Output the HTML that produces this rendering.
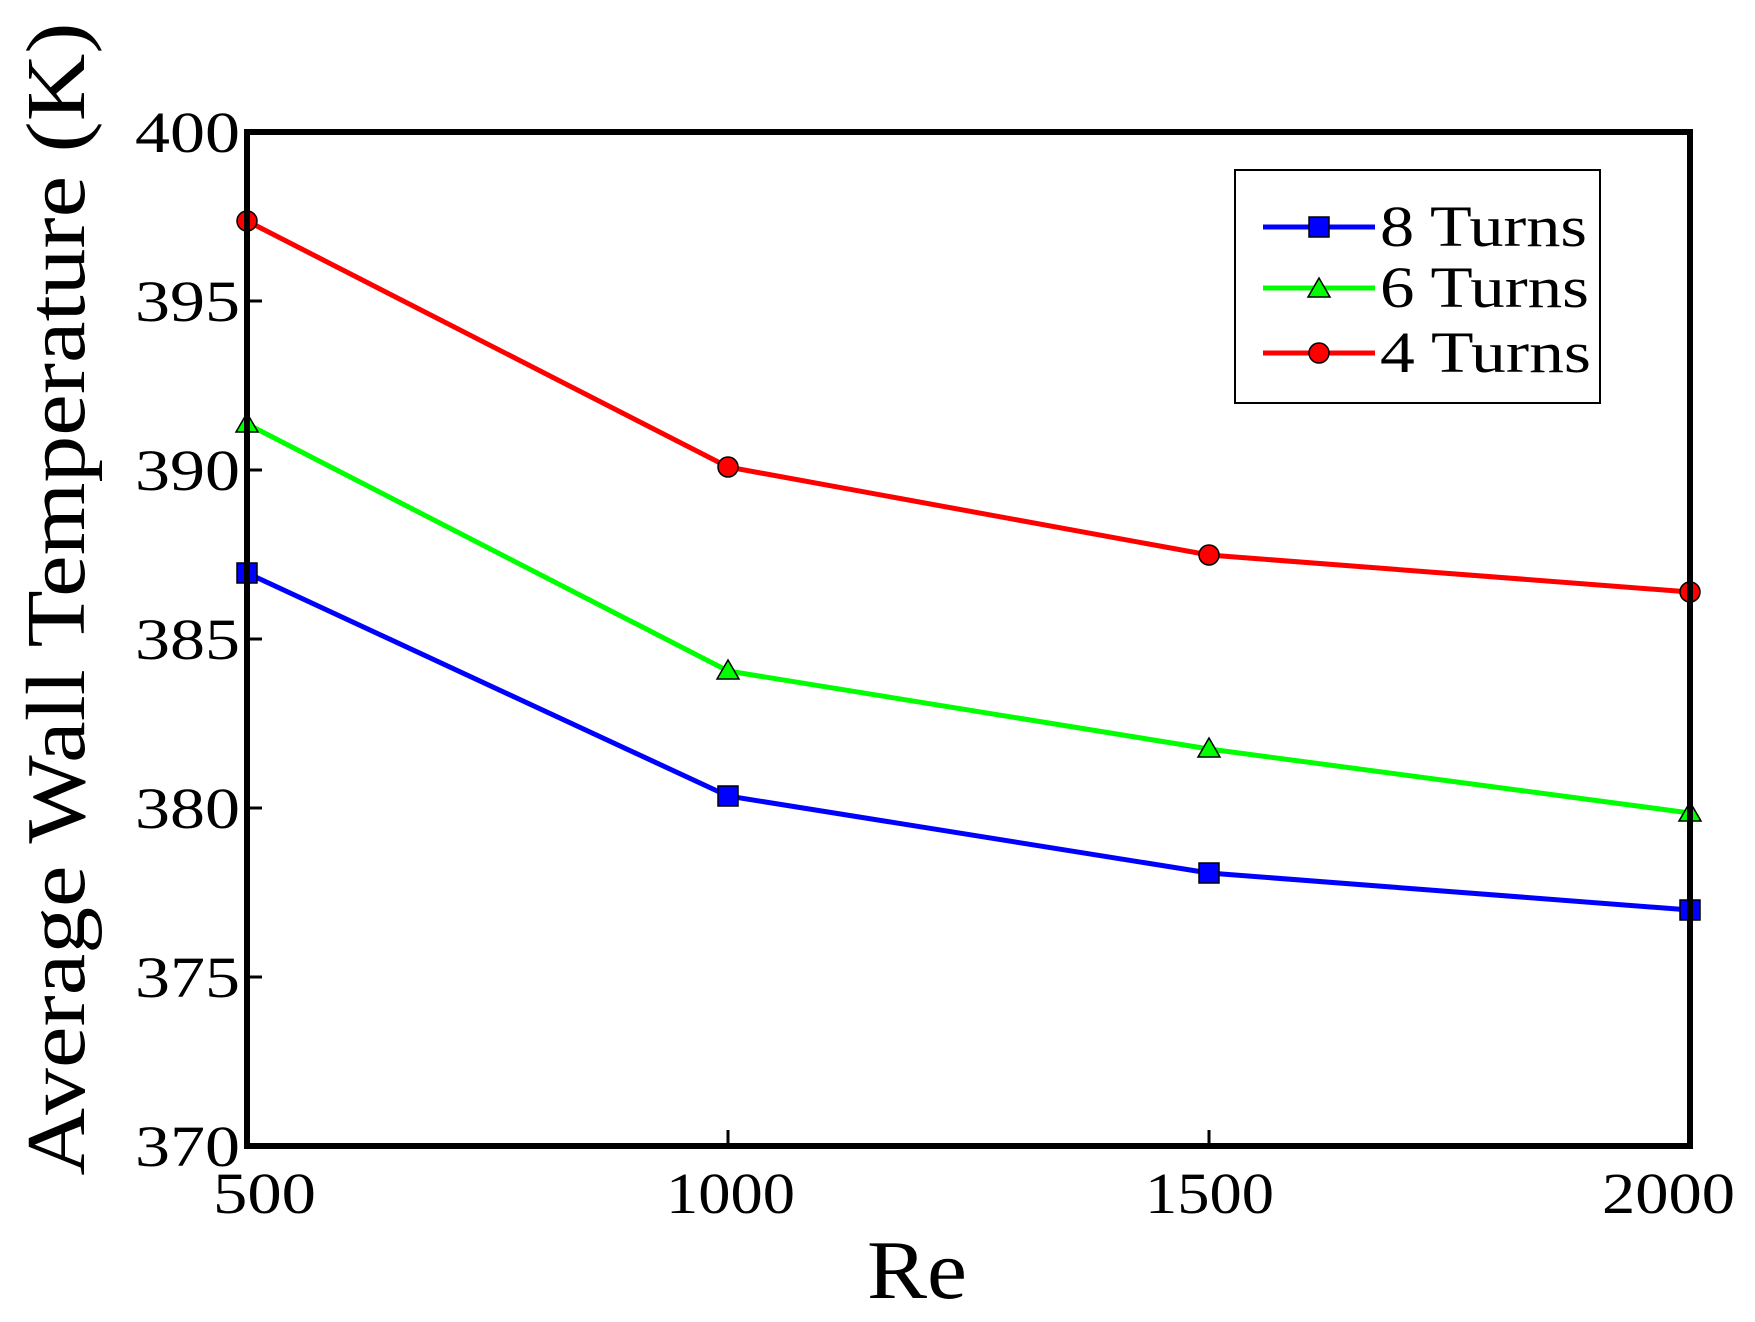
<!DOCTYPE html>
<html><head><style>html,body{margin:0;padding:0;background:#fff}</style></head>
<body>
<svg width="1755" height="1317" xmlns="http://www.w3.org/2000/svg" font-family="Liberation Serif, serif">
<rect width="1755" height="1317" fill="#fff"/>
<g stroke="#000" stroke-width="3">
<line x1="728" y1="1146" x2="728" y2="1130"/><line x1="1209" y1="1146" x2="1209" y2="1130"/>
<line x1="247" y1="301" x2="262" y2="301"/><line x1="247" y1="470" x2="262" y2="470"/><line x1="247" y1="639" x2="262" y2="639"/><line x1="247" y1="808" x2="262" y2="808"/><line x1="247" y1="977" x2="262" y2="977"/>
</g>
<g font-size="58" text-anchor="end" fill="#000">
<text x="240" y="152" textLength="105" lengthAdjust="spacingAndGlyphs">400</text><text x="240" y="321" textLength="105" lengthAdjust="spacingAndGlyphs">395</text><text x="240" y="490" textLength="105" lengthAdjust="spacingAndGlyphs">390</text><text x="240" y="659" textLength="105" lengthAdjust="spacingAndGlyphs">385</text><text x="240" y="828" textLength="105" lengthAdjust="spacingAndGlyphs">380</text><text x="240" y="997" textLength="105" lengthAdjust="spacingAndGlyphs">375</text><text x="240" y="1166" textLength="105" lengthAdjust="spacingAndGlyphs">370</text>
</g>
<g font-size="58">
<text x="213" y="1213" textLength="103" lengthAdjust="spacingAndGlyphs">500</text><text x="666" y="1213" textLength="129" lengthAdjust="spacingAndGlyphs">1000</text><text x="1145" y="1213" textLength="129" lengthAdjust="spacingAndGlyphs">1500</text><text x="1602" y="1213" textLength="133" lengthAdjust="spacingAndGlyphs">2000</text>
</g>
<text x="867" y="1298" font-size="84" textLength="100" lengthAdjust="spacingAndGlyphs">Re</text>
<text transform="translate(84,599) rotate(-90)" font-size="84" text-anchor="middle" textLength="1153" lengthAdjust="spacingAndGlyphs">Average Wall Temperature (K)</text>
<g fill="none" stroke-width="5">
<polyline stroke="#f00" points="247,221 728,467 1209,555 1690,592"/>
<polyline stroke="#0f0" points="247,424 728,671 1209,749 1690,813"/>
<polyline stroke="#00f" points="247,573 728,796 1209,873 1690,910"/>
</g>
<g fill="#f00" stroke="#000" stroke-width="1.5">
<circle cx="247" cy="221" r="10"/><circle cx="728" cy="467" r="10"/><circle cx="1209" cy="555" r="10"/><circle cx="1690" cy="592" r="10"/>
</g>
<g fill="#0f0" stroke="#000" stroke-width="1.5">
<polygon points="247,413 258,432 236,432"/><polygon points="728,660 739,679 717,679"/><polygon points="1209,738 1220,757 1198,757"/><polygon points="1690,802 1701,821 1679,821"/>
</g>
<g fill="#00f" stroke="#000" stroke-width="1.5">
<rect x="237" y="563" width="20" height="20"/><rect x="718" y="786" width="20" height="20"/><rect x="1199" y="863" width="20" height="20"/><rect x="1680" y="900" width="20" height="20"/>
</g>
<rect x="247" y="132" width="1443" height="1014" fill="none" stroke="#000" stroke-width="6"/>
<rect x="1235" y="170" width="365" height="233" fill="#fff" stroke="#000" stroke-width="2"/>
<line x1="1263" y1="227" x2="1375" y2="227" stroke="#00f" stroke-width="5"/>
<rect x="1309" y="217" width="20" height="20" fill="#00f" stroke="#000" stroke-width="1.5"/>
<line x1="1263" y1="288" x2="1375" y2="288" stroke="#0f0" stroke-width="5"/>
<polygon points="1319,278 1330,297 1308,297" fill="#0f0" stroke="#000" stroke-width="1.5"/>
<line x1="1263" y1="353" x2="1375" y2="353" stroke="#f00" stroke-width="5"/>
<circle cx="1319" cy="353" r="10" fill="#f00" stroke="#000" stroke-width="1.5"/>
<g font-size="58">
<text x="1380" y="246" textLength="207" lengthAdjust="spacingAndGlyphs">8 Turns</text><text x="1380" y="307" textLength="209" lengthAdjust="spacingAndGlyphs">6 Turns</text><text x="1380" y="372" textLength="211" lengthAdjust="spacingAndGlyphs">4 Turns</text>
</g>
</svg>
</body></html>
